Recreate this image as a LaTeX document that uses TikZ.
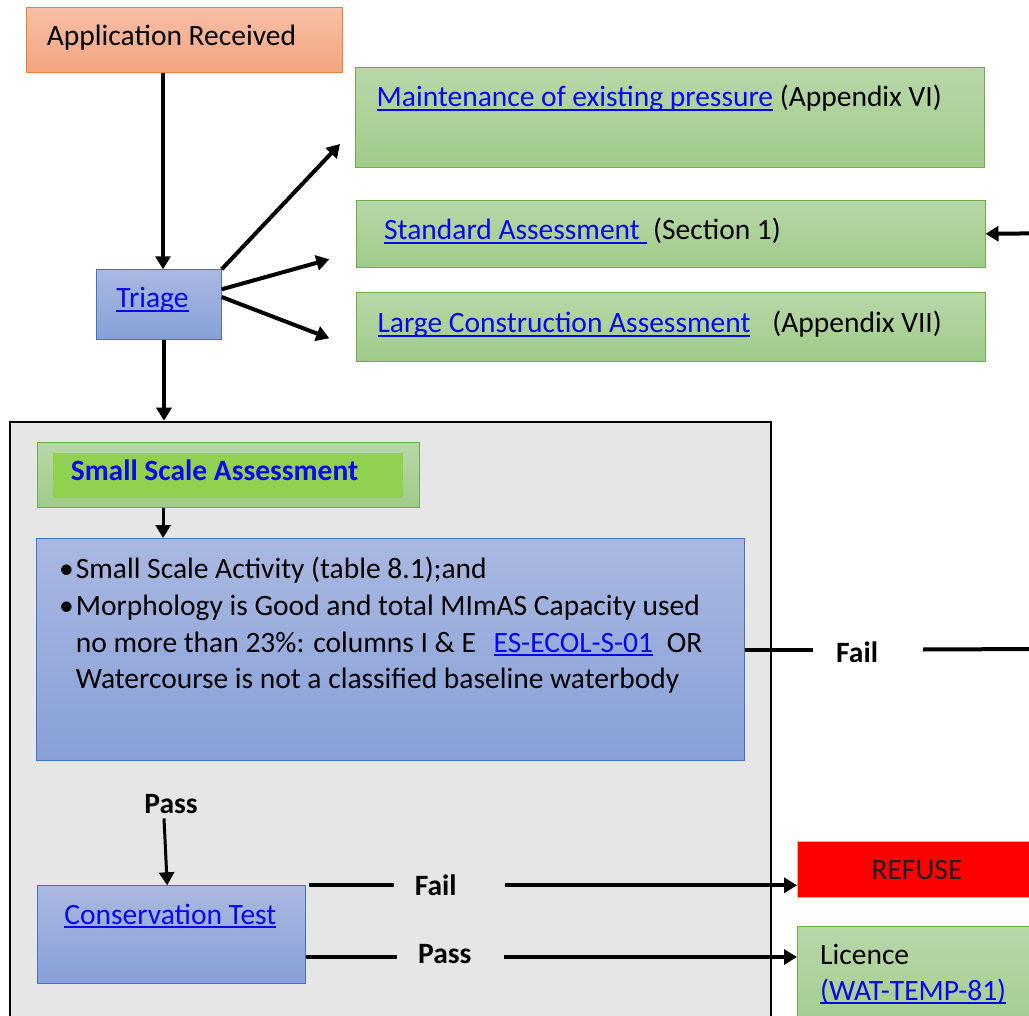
\documentclass[tikz,border=0pt]{standalone}
\usepackage{fontspec}
\setmainfont{Carlito}
\usetikzlibrary{arrows.meta,calc}
\definecolor{salT}{RGB}{248,191,166}
\definecolor{salB}{RGB}{244,164,128}
\definecolor{salD}{RGB}{237,125,49}
\definecolor{grT}{RGB}{184,215,169}
\definecolor{grB}{RGB}{160,203,137}
\definecolor{grD}{RGB}{112,173,71}
\definecolor{blT}{RGB}{170,184,225}
\definecolor{blB}{RGB}{135,160,215}
\definecolor{blD}{RGB}{68,114,196}
\definecolor{lnk}{RGB}{8,8,235}
\definecolor{cont}{RGB}{230,230,230}
\definecolor{brightgr}{RGB}{146,208,80}
\definecolor{refR}{RGB}{255,0,0}
\definecolor{refD}{RGB}{244,177,131}
\definecolor{dk}{RGB}{30,30,30}
\newcommand\fs{\fontsize{29.5}{35}\selectfont}
\newcommand\lk[1]{{\color{lnk}\setbox0=\hbox{#1}\rlap{\rule[-0.13em]{\wd0}{0.06em}}\box0}}
\begin{document}
\begin{tikzpicture}[x=1pt,y=-1pt,
  base/.style={draw, line width=1pt, inner sep=0pt, anchor=north west},
  salbox/.style={base, draw=salD, top color=salT, bottom color=salB},
  grbox/.style={base, draw=grD, top color=grT, bottom color=grB},
  blbox/.style={base, draw=blD, top color=blT, bottom color=blB},
  txt/.style={inner sep=0pt, anchor=base west, font=\fs},
  btxt/.style={txt, font=\fs\bfseries},
  arr/.style={line width=4pt, -{Triangle[length=13pt,width=15pt]}},
  sarr/.style={line width=3pt, -{Triangle[length=13pt,width=15pt]}},
  ln/.style={line width=4pt}]
\useasboundingbox (0,0) rectangle (1029,1016);
\fill[white] (0,0) rectangle (1029,1016);

% top part
\node[salbox, minimum width=316pt, minimum height=65pt] (app) at (25.7,7.3) {};
\node[txt] (appt) at (46.7,46) {Application Received};
\node[blbox, minimum width=125pt, minimum height=70pt] (tri) at (95.7,269.3) {};
\node[txt, anchor=base] (trit) at (152.5,308) {\lk{Triage}};
\node[grbox, minimum width=629pt, minimum height=99.4pt] (maint) at (355.4,67.3) {};
\node[txt] (maintt) at (376.5,107) {\lk{Maintenance of existing pressure} (Appendix VI)};
\node[grbox, minimum width=628.5pt, minimum height=66.7pt] (std) at (356,200) {};
\node[txt] (stdt) at (384,240) {\lk{Standard Assessment\ }\ (Section 1)};
\node[grbox, minimum width=628.5pt, minimum height=68.4pt] (large) at (356,292.3) {};
\node[txt] (larget) at (377.3,333) {\lk{Large Construction Assessment}\hspace{22pt}(Appendix VII)};

% container
\node[draw=black, line width=2pt, fill=cont, minimum width=761pt, minimum height=640pt, anchor=north west, inner sep=0pt] (cont) at (9,420.7) {};
\node[grbox, minimum width=382pt, minimum height=64.4pt] (ss) at (36.8,442.3) {};
\node[anchor=north west, fill=brightgr, inner sep=0pt, minimum width=350pt, minimum height=45.3pt] (ssin) at (53,452.7) {};
\node[btxt, text=lnk] (sst) at (70.6,481) {Small Scale Assessment};
\node[blbox, minimum width=708pt, minimum height=222pt] (blue) at (36.3,538) {};
\node[txt] (d1) at (59,578) {\textbullet};
\node[txt] (b1) at (75.6,578) {Small Scale Activity (table 8.1);and};
\node[txt] (d2) at (59,615) {\textbullet};
\node[txt] (b2) at (75.6,615) {Morphology is Good and total MImAS Capacity used};
\node[txt] (b3) at (75.6,652) {no more than 23\%: columns I \& E};
\node[txt] (b3l) at (493.5,652) {\lk{ES-ECOL-S-01}};
\node[txt] (b3o) at (666.7,652) {OR};
\node[txt] (b4) at (75.6,688) {Watercourse is not a classified baseline waterbody};

\node[btxt, anchor=base] (pa) at (171,813) {Pass};
\node[blbox, minimum width=268pt, minimum height=97.4pt] (cons) at (36.7,885.3) {};
\node[txt, anchor=base] (const) at (170.3,924) {\lk{Conservation Test}};
\node[btxt] (fc) at (414.7,895) {Fail};
\node[btxt] (pc) at (418,963) {Pass};
\node[btxt] (fr) at (836,662.7) {Fail};

% right boxes
\node[base, draw=refD, fill=refR, minimum width=260pt, minimum height=55.7pt] (ref) at (797,841) {};
\node[txt, anchor=base, text=dk] (reft) at (917,879) {REFUSE};
\node[grbox, minimum width=260pt, minimum height=120pt] (lic) at (797,925.7) {};
\node[txt] (lict) at (820,964) {Licence};
\node[txt] (licl) at (820,1000) {\lk{(WAT-TEMP-81)}};

% helper coordinates
\coordinate (c1) at ([xshift=4.3pt]tri.north);
\coordinate (c2) at ([xshift=5.3pt]tri.south);
\coordinate (c3) at ([xshift=-65.2pt]ss.south);
\coordinate (tM) at (340,144);
\coordinate (tS) at (329.3,259.3);
\coordinate (tL) at (329.3,338.3);
\coordinate (sin) at (1040,233.3);
\coordinate (fend) at (1040,649);
\coordinate (frL) at ([xshift=-23pt]fr.west);
\coordinate (frR) at ([xshift=45pt]fr.east);
\coordinate (fcL) at ([xshift=-21pt]fc.west);
\coordinate (fcR) at ([xshift=48pt]fc.east);
\coordinate (pcL) at ([xshift=-21pt]pc.west);
\coordinate (pcR) at ([xshift=32.6pt]pc.east);
\coordinate (py) at ([yshift=26.7pt]cons.south east);
\coordinate (fy) at ([xshift=3.5pt]cons.north east);
\coordinate (pa1) at ([xshift=-7pt,yshift=-5pt]pa.south);
\coordinate (pa2) at ([xshift=-4pt]cons.north);

% connectors
\draw[arr] (c1 |- app.south) -- (c1);
\draw[arr] (c2) -- (c2 |- cont.north);
\draw[arr] (tri.north east) -- (tM);
\draw[arr] ([yshift=-20pt]tri.north east) -- (tS);
\draw[arr] ([yshift=-27.7pt]tri.north east) -- (tL);
\draw[arr] (sin) -- (std.east);
\draw[sarr] (c3) -- (c3 |- blue.north);
\draw[ln] (blue.east) -- (frL |- blue.east);
\draw[ln] (frR |- blue.east) -- (fend);
\draw[sarr] (pa1) -- (pa2);
\draw[ln] (fy) -- (fcL |- fy);
\draw[arr] (fcR |- fy) -- (ref.west |- fy);
\draw[ln] (py) -- (pcL |- py);
\draw[arr] (pcR |- py) -- (lic.west |- py);
\end{tikzpicture}
\end{document}
